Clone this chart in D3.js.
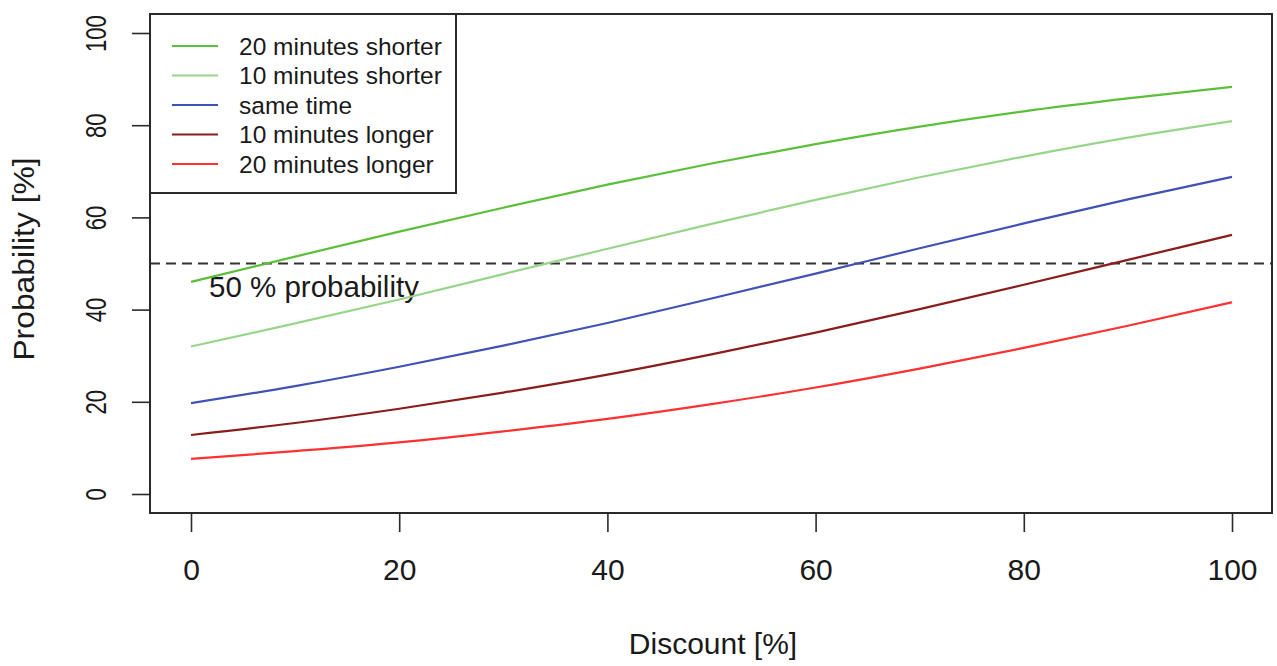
<!DOCTYPE html>
<html>
<head>
<meta charset="utf-8">
<script src="https://cdn.jsdelivr.net/npm/d3@7"></script>
<style>
  html, body { margin: 0; padding: 0; background: #fff; }
  svg { display: block; }
  text { font-family: "Liberation Sans", Arial, sans-serif; fill: #1a1a1a; }
</style>
</head>
<body>
<svg id="chart" width="1277" height="666"></svg>
<script>
// ---- data ----
const discount = [0, 10, 20, 30, 40, 50, 60, 70, 80, 90, 100];
const seriesNames = ["20 minutes shorter", "10 minutes shorter", "same time", "10 minutes longer", "20 minutes longer"];
const seriesColors = ["#5cbf3a", "#97d68a", "#4052b5", "#8b1c1c", "#ff3030"];
const shorter20 = [46.0, 51.5, 56.9, 62.1, 67.1, 71.7, 75.9, 79.7, 83.0, 85.8, 88.3];
const shorter10 = [32.0, 37.0, 42.2, 47.7, 53.2, 58.6, 63.8, 68.7, 73.2, 77.3, 80.9];
const sameTime  = [19.7, 23.4, 27.6, 32.2, 37.1, 42.4, 47.8, 53.3, 58.7, 63.9, 68.8];
const longer10  = [12.8, 15.4, 18.5, 22.0, 25.9, 30.3, 35.0, 40.1, 45.4, 50.8, 56.2];
const longer20  = [7.6, 9.3, 11.2, 13.6, 16.3, 19.5, 23.1, 27.2, 31.7, 36.5, 41.6];
const seriesValues = [shorter20, shorter10, sameTime, longer10, longer20];
const xTicks = [0, 20, 40, 60, 80, 100];
const yTicks = [0, 20, 40, 60, 80, 100];
const refLevel = 50;
const refLabel = "50 % probability";

// ---- layout ----
const svg = d3.select("#chart");
const box = { left: 150, top: 14, right: 1272, bottom: 513 };
const x = d3.scaleLinear().domain([0, 100]).range([191, 1232]);
const y = d3.scaleLinear().domain([0, 100]).range([494, 33]);

svg.append("defs").append("clipPath").attr("id", "clip")
  .append("rect").attr("x", box.left).attr("y", box.top)
  .attr("width", box.right - box.left).attr("height", box.bottom - box.top);

// reference dashed line
svg.append("line")
  .attr("x1", box.left).attr("x2", box.right)
  .attr("y1", y(refLevel)).attr("y2", y(refLevel))
  .attr("stroke", "#333").attr("stroke-width", 2)
  .attr("stroke-dasharray", "10,6");

svg.append("text")
  .attr("x", 209).attr("y", y(refLevel) + 33)
  .attr("font-size", 29.5)
  .text(refLabel);

// curves
const line = d3.line()
  .x((d, i) => x(discount[i]))
  .y(d => y(d))
  .curve(d3.curveMonotoneX);

const g = svg.append("g").attr("clip-path", "url(#clip)");
seriesValues.forEach((vals, k) => {
  g.append("path")
    .datum(vals)
    .attr("d", line)
    .attr("fill", "none")
    .attr("stroke", seriesColors[k])
    .attr("stroke-width", 2.2);
});

// plot box
svg.append("rect")
  .attr("x", box.left).attr("y", box.top)
  .attr("width", box.right - box.left).attr("height", box.bottom - box.top)
  .attr("fill", "none").attr("stroke", "#2a2a2a").attr("stroke-width", 2);

// x axis
const xAxis = d3.axisBottom(x).tickValues(xTicks).tickSize(19)
  .tickFormat(d3.format("d"));
const gx = svg.append("g").attr("transform", `translate(0,${box.bottom})`).call(xAxis);
gx.select(".domain").attr("stroke", "none");
gx.selectAll(".tick line").attr("stroke", "#2a2a2a").attr("stroke-width", 1.6);
gx.selectAll(".tick text").attr("font-size", 30).attr("fill", "#1a1a1a")
  .attr("font-family", "Liberation Sans, Arial, sans-serif")
  .attr("y", 67).attr("dy", "0");

// y axis
const yAxis = d3.axisLeft(y).tickValues(yTicks).tickSize(18)
  .tickFormat(d3.format("d"));
const gy = svg.append("g").attr("transform", `translate(${box.left},0)`).call(yAxis);
gy.select(".domain").attr("stroke", "none");
gy.selectAll(".tick line").attr("stroke", "#2a2a2a").attr("stroke-width", 1.6);
gy.selectAll(".tick text")
  .attr("font-size", 29).attr("fill", "#1a1a1a")
  .attr("font-family", "Liberation Sans, Arial, sans-serif")
  .attr("text-anchor", "middle")
  .attr("x", 0).attr("y", 0).attr("dy", "0")
  .attr("transform", "translate(-44,0) rotate(-90) scale(0.76,1)");

// axis titles
svg.append("text")
  .attr("x", 713).attr("y", 654)
  .attr("text-anchor", "middle").attr("font-size", 30)
  .text("Discount [%]");

svg.append("text")
  .attr("transform", `translate(34,259) rotate(-90) scale(1.06,1)`)
  .attr("text-anchor", "middle").attr("font-size", 30)
  .text("Probability [%]");

// legend
const leg = svg.append("g");
leg.append("rect")
  .attr("x", box.left).attr("y", box.top)
  .attr("width", 456 - box.left).attr("height", 193 - box.top)
  .attr("fill", "#fff").attr("stroke", "#2a2a2a").attr("stroke-width", 2);
seriesNames.forEach((name, k) => {
  const cy = 46 + k * 29.5;
  leg.append("line")
    .attr("x1", 172).attr("x2", 218).attr("y1", cy).attr("y2", cy)
    .attr("stroke", seriesColors[k]).attr("stroke-width", 2.2);
  leg.append("text")
    .attr("x", 239).attr("y", cy).attr("dy", "0.35em")
    .attr("font-size", 24.5)
    .text(name);
});
</script>
</body>
</html>
